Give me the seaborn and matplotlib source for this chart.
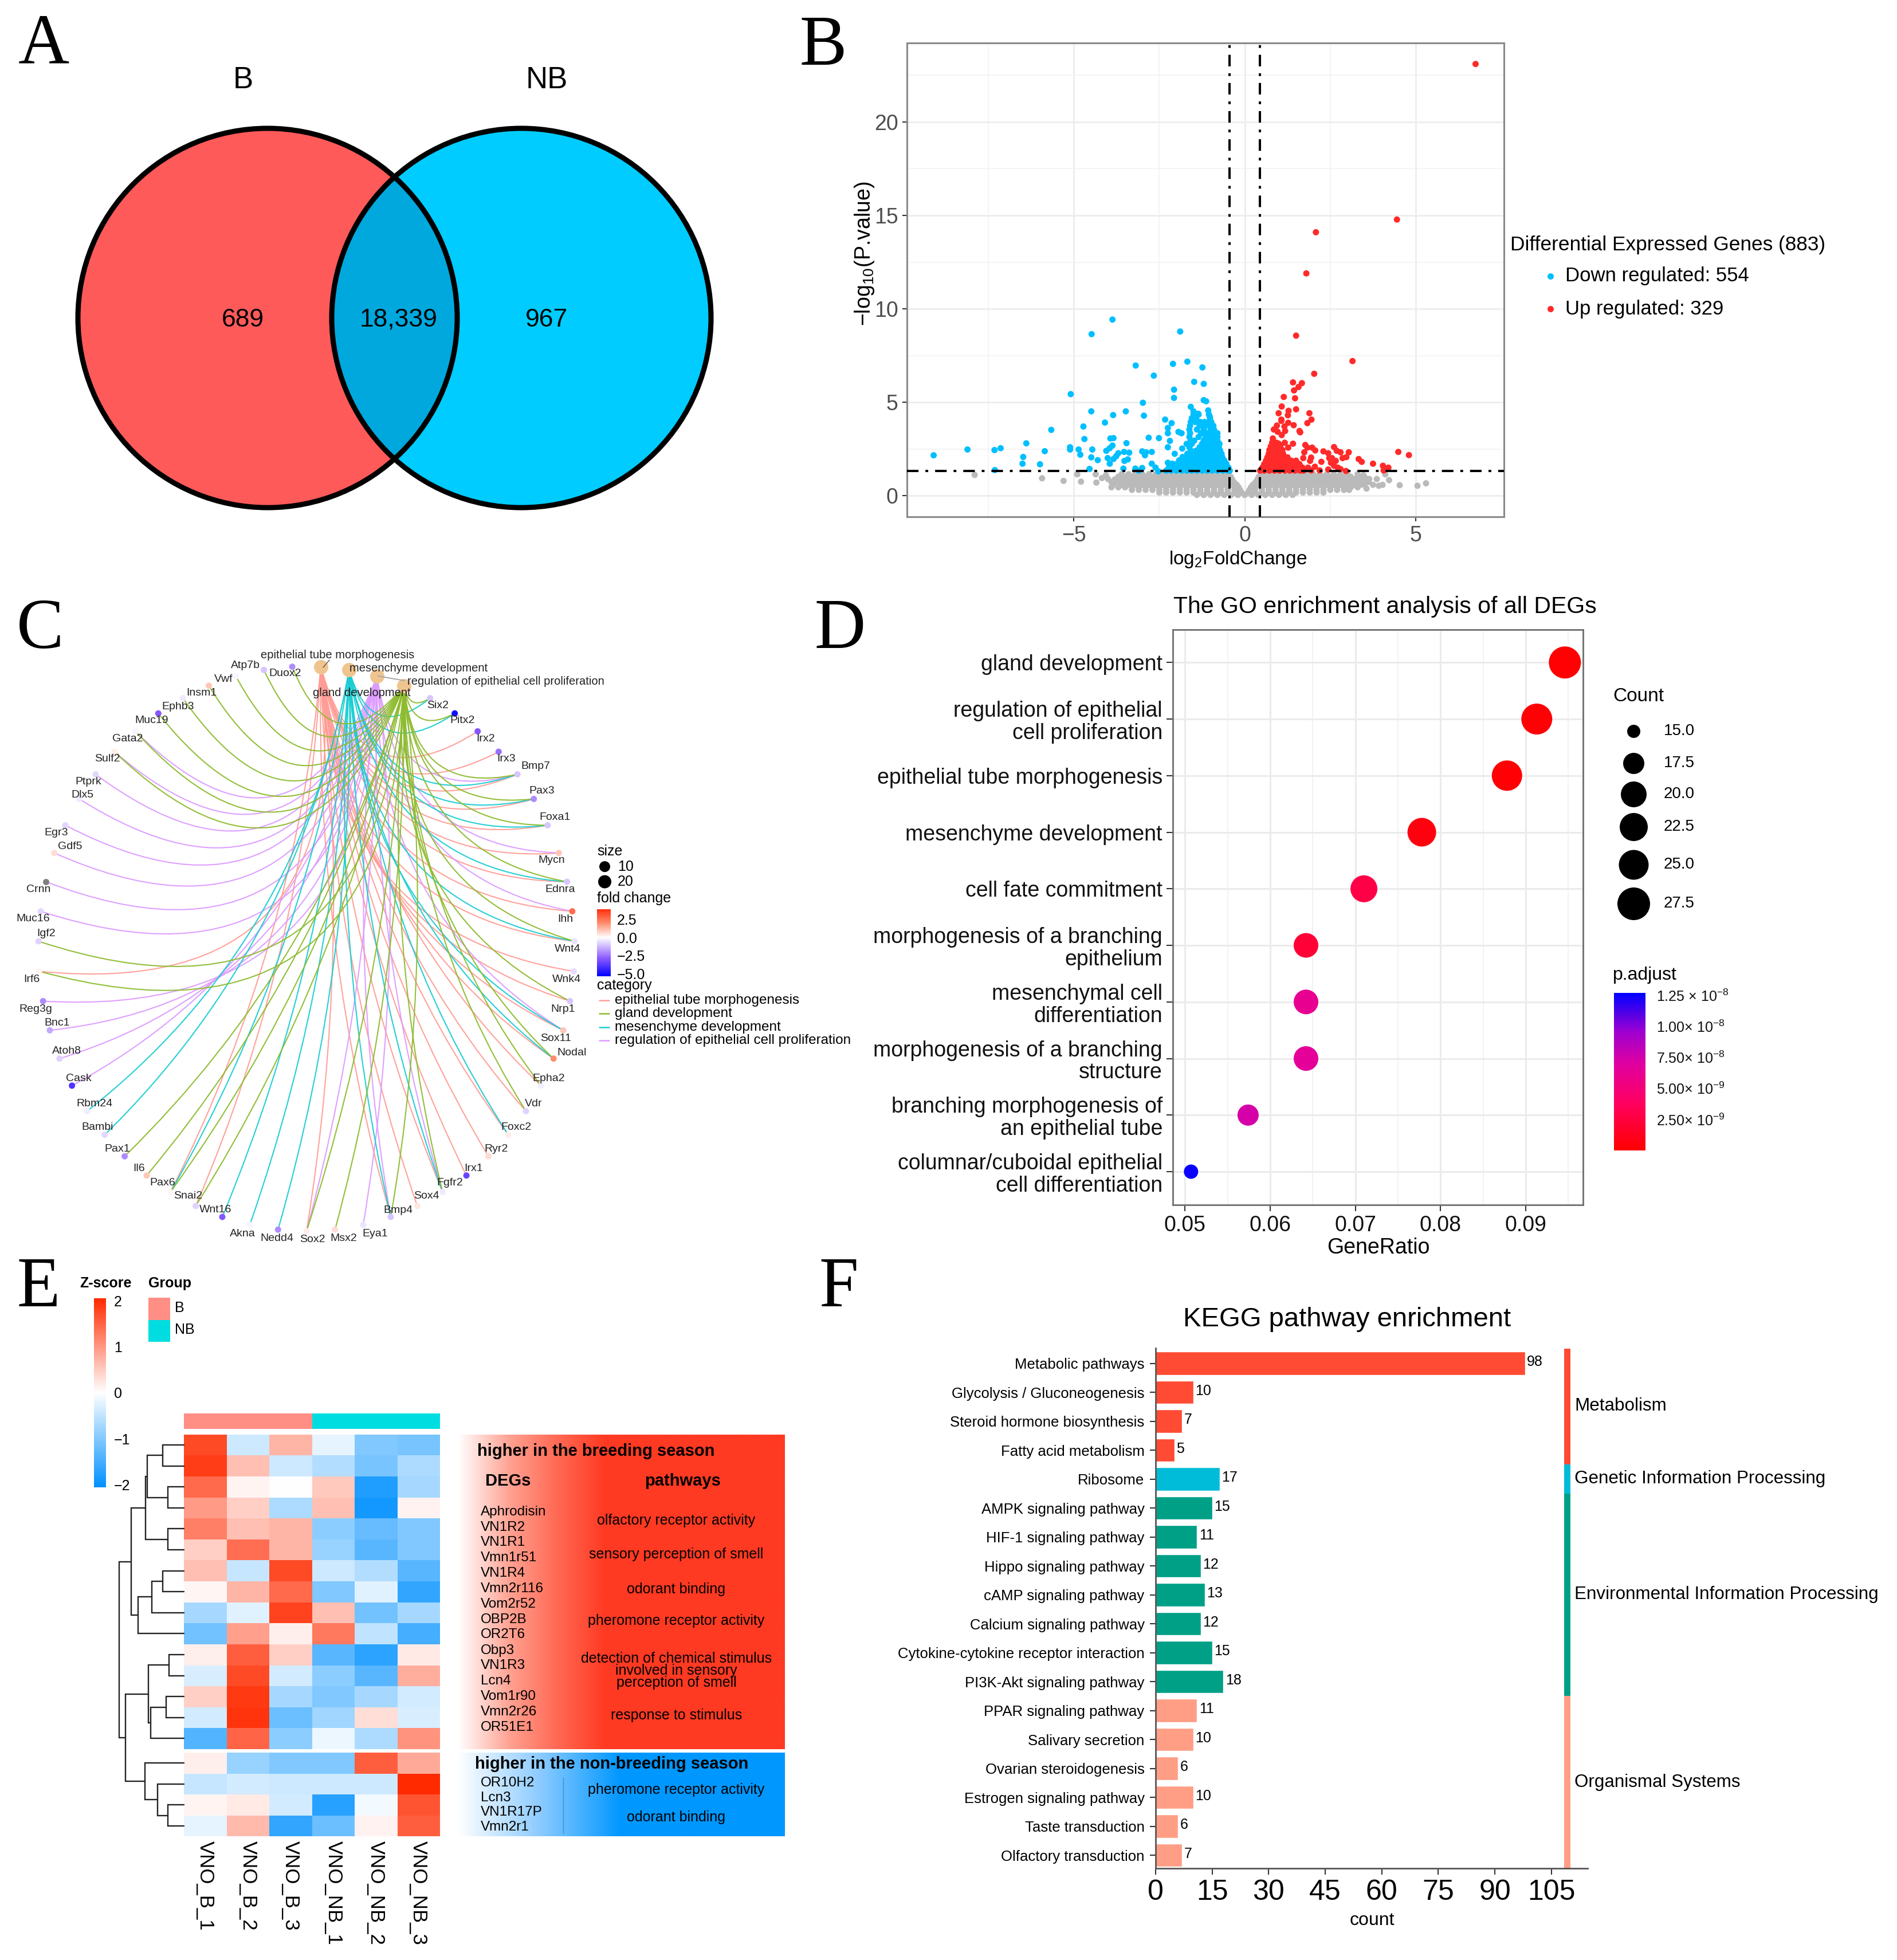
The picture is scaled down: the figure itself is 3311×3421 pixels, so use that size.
import numpy as np
import pandas as pd
import matplotlib
matplotlib.use('Agg')
import matplotlib.pyplot as plt
import seaborn as sns
from matplotlib.cm import ScalarMappable
from matplotlib.colors import LinearSegmentedColormap, ListedColormap, Normalize
from matplotlib.patches import Circle, PathPatch
from matplotlib.path import Path

W, H = 3311, 3421

# --- A: venn
venn_counts = ['689', '18,339', '967']
venn_sets = ['B', 'NB']

# --- B: volcano, values
gray_levels = [0.05, 0.18, 0.32, 0.46, 0.6, 0.74, 0.88, 1.02, 1.16]
gray_rows = [
    [-1.4, -1.2, -1.0, -.8, -.6, -.4, -.2, 0, .2, .4, .6, .8, 1.0, 1.2, 1.4],
    [-2.5, -2.3, -2.1, -1.9, -1.7, -1.5, -1.3, -1.1, -.9, -.7, -.5, -.3, -.1, .1, .3, .5, .7, .9, 1.1, 1.3, 1.5, 1.7, 1.9, 2.1, 2.3],
    [-3.3, -3.1, -2.9, -2.7, -2.5, -2.3, -2.1, -1.9, -1.7, -1.5, -1.3, -1.1, -.9, -.7, -.5, -.3, -.14, .14, .3, .5, .7, .9, 1.1, 1.3, 1.5, 1.7, 1.9, 2.1, 2.3, 2.5, 2.7, 2.9, 3.05],
    [-3.9, -3.7, -3.5, -3.3, -3.1, -2.9, -2.7, -2.5, -2.3, -2.1, -1.9, -1.7, -1.5, -1.3, -1.1, -.9, -.7, -.5, -.3, -.18, .18, .3, .5, .7, .9, 1.1, 1.3, 1.5, 1.7, 1.9, 2.1, 2.3, 2.5, 2.7, 2.9, 3.1, 3.3],
    [-3.85, -3.6, -3.4, -3.2, -3.0, -2.8, -2.6, -2.4, -2.2, -2.0, -1.8, -1.6, -1.4, -1.2, -1.0, -.8, -.6, -.4, -.24, .24, .4, .6, .8, 1.0, 1.2, 1.4, 1.6, 1.8, 2.0, 2.2, 2.4, 2.6, 2.8, 3.0, 3.2, 3.4, 3.5],
    [-3.9, -3.7, -3.5, -3.3, -3.1, -2.9, -2.7, -2.5, -2.3, -2.1, -1.9, -1.7, -1.5, -1.3, -1.1, -.9, -.7, -.5, -.32, .32, .5, .7, .9, 1.1, 1.3, 1.5, 1.7, 1.9, 2.1, 2.3, 2.5, 2.7, 2.9, 3.1, 3.3, 3.5, 3.62],
    [-3.8, -3.6, -3.4, -3.2, -3.0, -2.8, -2.6, -2.4, -2.2, -2.0, -1.8, -1.6, -1.4, -1.2, -1.0, -.8, -.6, -.37, .37, .6, .8, 1.0, 1.2, 1.4, 1.6, 1.8, 2.0, 2.2, 2.4, 2.6, 2.8, 3.0, 3.2, 3.4, 3.6],
    [-3.7, -3.5, -3.3, -3.1, -2.9, -2.7, -2.5, -2.3, -2.1, -1.9, -1.7, -1.5, -1.3, -1.1, -.9, -.7, -.5, -.41, .41, .5, .7, .9, 1.1, 1.3, 1.5, 1.7, 1.9, 2.1, 2.3, 2.5, 2.7, 2.9, 3.1, 3.3, 3.5],
    [-3.6, -3.4, -3.2, -3.0, -2.8, -2.6, -2.4, -2.2, -2.0, -1.8, -1.6, -1.4, -1.2, -1.0, -.8, -.6, -.47, .47, .6, .8, 1.0, 1.2, 1.4, 1.6, 1.8, 2.0, 2.2, 2.4, 2.6, 2.8, 3.0, 3.3],
]
gray_out_x = [-7.9, -5.93, -5.3, -4.9, -4.79, -4.36, -4.34, -4.18, -4.06, -4.0, 4.53, 5.05, 5.3, 4.22, 4.11, 3.92, 4.03, 3.75, 3.56, 3.86, 3.64, 3.47]
gray_out_y = [1.12, .94, .8, 1.15, .76, 1.15, .71, .95, 1.1, .9, .57, .54, .67, .84, 1.15, .54, .59, .59, .39, .9, .9, 1.1]

blue_x = [-9.1, -8.11, -7.32, -7.14, -6.39, -6.48, -6.5, -7.31, -5.85, -5.99, -5.66, -5.09, -5.11, -5.11, -4.86, -4.81, -4.72, -4.69, -4.49, -4.46, -4.49, -4.3, -4.54,
          -4.09, -3.85, -3.48, -3.93, -3.84, -3.46, -3.87, -3.95, -4.05, -3.7, -3.76, -3.84, -4.01, -3.95, -3.53, -3.38, -3.42, -3.52, -3.55,
          -3.19, -2.66, -2.1, -1.68, -1.24, -1.48, -1.2, -2.07, -2.07, -1.2, -1.13, -2.98, -2.95, -1.58, -1.5, -1.36, -1.07, -1.02,
          -2.33, -2.14, -2.25, -2.25, -1.94, -1.85, -2.81, -2.51, -2.19, -2.25, -3.0, -2.89, -2.72, -2.92, -2.05, -1.83, -2.25, -2.72, -2.61, -2.53,
          -3.2, -3.0, -3.1, -3.87, -4.48, -1.89]
blue_y = [2.17, 2.48, 2.45, 2.55, 2.81, 2.08, 1.72, 1.38, 2.39, 1.69, 3.53, 5.44, 2.6, 2.48, 2.48, 2.2, 3.71, 3.04, 4.52, 2.48, 2.06, 1.91, 1.44,
          3.92, 4.32, 4.52, 3.07, 3.09, 2.82, 2.69, 2.55, 2.41, 2.28, 2.12, 1.97, 2.02, 1.72, 2.35, 2.31, 1.95, 1.87, 1.46,
          6.97, 6.43, 7.06, 7.18, 6.87, 6.1, 5.99, 5.68, 5.24, 5.12, 5.06, 4.98, 4.29, 4.76, 4.52, 4.39, 4.57, 4.22,
          4.08, 3.89, 3.63, 3.35, 3.42, 3.35, 3.11, 3.09, 2.94, 2.6, 2.38, 2.33, 2.35, 2.17, 2.25, 2.53, 1.77, 1.72, 1.51, 1.31,
          1.46, 1.49, 1.35, 9.43, 8.65, 8.79]
blue_levels = [1.35, 1.52, 1.72, 1.9, 2.08, 2.25, 2.42, 2.6, 2.78, 2.95, 3.15, 3.35, 3.55, 3.75, 3.95, 4.15, 4.35]
blue_rows = [
    [-2.3, -2.15, -2.0, -1.85, -1.7, -1.55, -1.4, -1.25, -1.1, -.95, -.8, -.65, -.5, -.44],
    [-2.22, -2.08, -1.92, -1.78, -1.62, -1.48, -1.32, -1.18, -1.02, -.88, -.72, -.58, -.48],
    [-2.12, -1.98, -1.82, -1.68, -1.52, -1.38, -1.22, -1.08, -.92, -.78, -.64, -.54],
    [-1.92, -1.78, -1.62, -1.48, -1.32, -1.18, -1.02, -.88, -.72, -.6],
    [-1.82, -1.68, -1.52, -1.38, -1.22, -1.08, -.92, -.78, -.66],
    [-1.68, -1.52, -1.38, -1.22, -1.08, -.92, -.78, -.68],
    [-1.58, -1.42, -1.28, -1.12, -.98, -.82, -.72],
    [-1.62, -1.32, -1.18, -1.02, -.88, -.76],
    [-1.7, -1.55, -1.25, -1.1, -.95, -.82, -.74],
    [-1.58, -1.48, -1.2, -1.05, -.92, -.8],
    [-1.62, -1.35, -1.15, -1.0, -.88, -.8],
    [-1.6, -1.28, -1.12, -.98, -.86, -.8],
    [-1.62, -1.4, -1.2, -1.0, -.9],
    [-1.6, -1.32, -1.15, -1.0, -.92],
    [-1.58, -1.45, -1.3, -1.18, -1.05, -.98],
    [-1.55, -1.42, -1.02],
    [-1.5, -1.35, -1.05],
]

red_x = [6.75, 4.45, 2.08, 1.8, 1.5, 3.15, 2.03, 1.41, 1.67, 1.57, 1.44, 1.14, 1.47, 1.08, 1.5, .99, 1.28, 1.26, 1.89, 1.95, 1.83, 1.07, 1.07, 1.27, 1.43, 1.6, 1.62,
         .94, .85, .96, 1.16, 1.18, 1.08, .82, .93, .99, 1.17, 1.41, 1.27, 1.77, 1.83, 1.97, 2.06, 1.74, 1.71, 1.94, 1.91,
         2.3, 2.44, 2.61, 2.69, 2.8, 3.04, 2.97, 2.86, 2.24, 2.47, 2.55, 2.66, 2.52, 2.61, 2.72, 2.8, 2.44,
         3.33, 3.42, 3.75, 4.04, 4.2, 4.06, 4.49, 4.8, 2.96, 1.85, 2.05, 1.94, 2.19]
red_y = [23.1, 14.78, 14.1, 11.9, 8.57, 7.21, 6.53, 6.07, 6.03, 5.82, 5.64, 5.29, 5.22, 4.78, 4.63, 4.42, 4.55, 4.31, 4.42, 4.08, 3.89, 4.08, 4.01, 3.91, 3.78, 3.47, 3.4,
         3.76, 3.55, 3.43, 3.71, 3.47, 3.25, 3.07, 2.84, 2.79, 2.84, 2.79, 2.58, 2.72, 2.58, 2.58, 2.43, 2.33, 2.02, 2.05, 1.87,
         2.38, 2.28, 2.61, 2.41, 2.33, 2.33, 2.07, 2.02, 1.82, 2.02, 2.02, 1.87, 1.77, 1.61, 1.51, 1.43, 1.41,
         1.97, 1.82, 1.72, 1.61, 1.51, 1.36, 2.35, 2.18, 1.33, 1.51, 1.56, 1.36, 1.36]
red_levels = [1.35, 1.52, 1.7, 1.88, 2.06, 2.25, 2.45, 2.65, 2.85]
red_rows = [
    [.45, .57, .72, .87, 1.02, 1.17, 1.32, 1.47, 1.62, 1.72],
    [.52, .65, .8, .95, 1.1, 1.25, 1.4, 1.55, 1.68],
    [.57, .72, .87, 1.02, 1.17, 1.32, 1.47, 1.6],
    [.62, .77, .92, 1.07, 1.22, 1.36, 1.5],
    [.66, .8, .95, 1.1, 1.25],
    [.7, .84, .98, 1.12],
    [.72, .84, .98, 1.1],
    [.76, .86, 1.04],
    [.8, .88],
]

# --- C: gene network
gene_names = ['Six2', 'Pitx2', 'Irx2', 'Irx3', 'Bmp7', 'Pax3', 'Foxa1', 'Mycn', 'Ednra', 'Ihh', 'Wnt4', 'Wnk4', 'Nrp1', 'Sox11', 'Nodal',
              'Epha2', 'Vdr', 'Foxc2', 'Ryr2', 'Irx1', 'Fgfr2', 'Sox4', 'Bmp4', 'Eya1', 'Msx2', 'Sox2', 'Nedd4', 'Akna', 'Wnt16', 'Snai2',
              'Pax6', 'Il6', 'Pax1', 'Bambi', 'Rbm24', 'Cask', 'Atoh8', 'Bnc1', 'Reg3g', 'Irf6', 'Igf2', 'Muc16', 'Crnn', 'Gdf5', 'Egr3',
              'Dlx5', 'Ptprk', 'Sulf2', 'Gata2', 'Muc19', 'Ephb3', 'Insm1', 'Vwf', 'Atp7b', 'Duox2']
gene_fc = [-1, -5, -3, -2.5, -1, -2, -1, 1, -1, 2.6, -.5, -.6, -1, 1, 2, -.3, -.8, .3, .6, -3.5, -.4, .4, -1, -.5, .6,
           .3, -2, -.2, -3, -.8, .2, 1, -2, -.7, -.3, -4, -.8, -1.5, -2, .2, -.8, -.7, np.nan, .6, -.7, -.4, -.7, .3, -.2, -3,
           -.4, 1, -.2, -1, -2]
gene_links = ['MG', 'MG', 'E', 'E', 'EGMR', 'EGM', 'EGM', 'ER', 'EGM', 'ER', 'EGM', 'E', 'EG', 'ERM', 'GME',
              'EG', 'EG', 'ME', 'E', 'E', 'EGMR', 'E', 'EGMR', 'R', 'G', 'GER', 'M', 'M', 'M', 'GE',
              'GEM', 'G', 'G', 'M', 'M', 'R', 'R', 'R', 'R', 'GE', 'G', 'R', 'R', 'R', 'R',
              'R', 'R', 'GR', 'GR', 'G', 'G', 'G', 'G', 'G', 'G']
term_names = ['epithelial tube morphogenesis', 'gland development', 'mesenchyme development', 'regulation of epithelial cell proliferation']
term_keys = ['E', 'G', 'M', 'R']
term_slot = {'E': 0, 'M': 1, 'R': 2, 'G': 3}
term_colors = {'E': '#FF9D96', 'G': '#8DBB2E', 'M': '#19CDD3', 'R': '#DD9BFF'}

# label positions (in zoom pixels of the original)
gene_label_x = [921, 973, 1022, 1066, 1127, 1140, 1168, 1161, 1179, 1190, 1195, 1193, 1185, 1170, 1204, 1155, 1123, 1087, 1044, 997, 947, 898, 838, 790, 723,
                658, 583, 511, 453, 396, 342, 293, 247, 205, 199, 166, 141, 120, 75, 67, 97, 70, 81, 147, 118, 174, 186, 226, 269, 319, 375, 424, 470, 517, 600]
gene_label_y = [302, 337, 378, 424, 441, 497, 557, 656, 722, 790, 858, 927, 995, 1062, 1095, 1153, 1211, 1265, 1314, 1358, 1391, 1422, 1454, 1507, 1518,
                1521, 1518, 1507, 1453, 1422, 1391, 1358, 1314, 1265, 1211, 1153, 1091, 1027, 995, 927, 823, 789, 722, 624, 593, 507, 476, 424, 378, 337, 305, 274, 242, 211, 230]

# --- D: GO dot plot
go_terms = ['gland development', 'regulation of epithelial\ncell proliferation', 'epithelial tube morphogenesis', 'mesenchyme development',
            'cell fate commitment', 'morphogenesis of a branching\nepithelium', 'mesenchymal cell\ndifferentiation',
            'morphogenesis of a branching\nstructure', 'branching morphogenesis of\nan epithelial tube',
            'columnar/cuboidal epithelial\ncell differentiation']
go_ratio = [.0946, .0913, .0878, .0778, .0710, .0642, .0642, .0642, .0574, .0507]
go_count = [28, 27, 26, 23, 21, 19, 19, 19, 17, 15]
go_padj = [1e-10, 2e-10, 1.5e-10, 6e-10, 2.8e-9, 2.2e-9, 6.2e-9, 6.6e-9, 7.4e-9, 1.25e-8]

# --- E: heatmap
samples = ['VNO_B_1', 'VNO_B_2', 'VNO_B_3', 'VNO_NB_1', 'VNO_NB_2', 'VNO_NB_3']
zscore = [
    [1.7, -.4, .7, -.2, -1.0, -1.05],
    [1.8, .6, -.4, -.6, -1.05, -.65],
    [1.4, .1, 0, .5, -1.75, -.7],
    [.95, .45, -.65, .6, -1.85, .12],
    [1.2, .6, .7, -.9, -1.2, -1.0],
    [.45, 1.35, .7, -.8, -1.3, -1.0],
    [.6, -.45, 1.7, -.4, -.6, -1.3],
    [.08, .7, 1.4, -1.0, -.25, -1.6],
    [-.7, -.25, 1.75, .6, -1.1, -.7],
    [-1.1, .9, .15, 1.25, -.5, -1.45],
    [.15, 1.5, .45, -1.3, -1.65, .2],
    [-.3, 1.7, -.35, -.9, -1.3, .75],
    [.45, 1.85, -.7, -1.0, -.7, -.35],
    [-.35, 1.9, -1.15, -.75, .3, -.3],
    [-1.35, 1.45, -.9, -.15, -.65, 1.0],
    [.15, -.8, -1.0, -1.0, 1.5, .8],
    [-.45, -.35, -.4, -.4, -.4, 2.0],
    [.1, .2, -.35, -1.7, -.1, 1.6],
    [-.2, .65, -1.6, -1.15, .12, 1.5],
]
# tree as (distance, child, child), leaves are row numbers
row_tree = (127,
            (103,
             (75, (72, (42, 0, 1), (32, 2, 3)), (32, 4, 5)),
             (90, (63, (42, 6, 7), 8), 9)),
            (115,
             (70, (30, 10, 11), (65, (35, 12, 13), 14)),
             (77, 15, (52, 16, (32, 17, 18)))))
deg_high = ['Aphrodisin', 'VN1R2', 'VN1R1', 'Vmn1r51', 'VN1R4', 'Vmn2r116', 'Vom2r52', 'OBP2B', 'OR2T6', 'Obp3', 'VN1R3', 'Lcn4', 'Vom1r90', 'Vmn2r26', 'OR51E1']
deg_low = ['OR10H2', 'Lcn3', 'VN1R17P', 'Vmn2r1']
path_high = ['olfactory receptor activity', 'sensory perception of smell', 'odorant binding', 'pheromone receptor activity',
             'detection of chemical stimulus', 'involved in sensory', 'perception of smell', 'response to stimulus']
path_low = ['pheromone receptor activity', 'odorant binding']

# --- F: KEGG bars
kegg_terms = ['Metabolic pathways', 'Glycolysis / Gluconeogenesis', 'Steroid hormone biosynthesis', 'Fatty acid metabolism', 'Ribosome',
              'AMPK signaling pathway', 'HIF-1 signaling pathway', 'Hippo signaling pathway', 'cAMP signaling pathway', 'Calcium signaling pathway',
              'Cytokine-cytokine receptor interaction', 'PI3K-Akt signaling pathway', 'PPAR signaling pathway', 'Salivary secretion',
              'Ovarian steroidogenesis', 'Estrogen signaling pathway', 'Taste transduction', 'Olfactory transduction']
kegg_count = [98, 10, 7, 5, 17, 15, 11, 12, 13, 12, 15, 18, 11, 10, 6, 10, 6, 7]
kegg_groups = ['Metabolism', 'Genetic Information Processing', 'Environmental Information Processing', 'Organismal Systems']
kegg_group_size = [4, 1, 7, 6]
kegg_group_color = ['#FF4B33', '#00BCD8', '#00A087', '#FF9E85']

sns.set_theme(style='white')
plt.rcParams['font.family'] = ['Liberation Sans', 'DejaVu Sans']
plt.rcParams['mathtext.fontset'] = 'custom'
plt.rcParams['mathtext.rm'] = 'Liberation Sans'
plt.rcParams['mathtext.it'] = 'Liberation Sans'
plt.rcParams['mathtext.default'] = 'regular'

fig = plt.figure(figsize=(W / 100, H / 100), dpi=100, facecolor='white')


def ax_px(l, t, r, b):
    return fig.add_axes([l / W, 1 - b / H, (r - l) / W, (b - t) / H])


def dot_size(d):
    return (d * 0.72) ** 2


over = fig.add_axes([0, 0, 1, 1], zorder=10)
over.set_xlim(0, W)
over.set_ylim(H, 0)
over.axis('off')


def txt(x, y, s, size, ha='left', **kw):
    over.text(x, y, s, fontsize=size, ha=ha, va='center', color=kw.pop('color', 'black'), **kw)


# panel letters
for letter, x, y in [('A', 76, 81), ('B', 1437, 83), ('C', 70, 1101), ('D', 1466, 1101), ('E', 67, 2250), ('F', 1464, 2250)]:
    over.text(x, y, letter, fontsize=89, ha='center', va='center', family='Liberation Serif', color='black')

# A
left = Circle((467, 555), 331, fc='#FF5A5A', ec='none')
right = Circle((910, 555), 331, fc='#00CCFF', ec='none')
over.add_patch(left)
over.add_patch(right)
both = Circle((910, 555), 331, fc='#00A8DD', ec='none')
over.add_patch(both)
both.set_clip_path(Circle((467, 555), 331, transform=over.transData))
for cx in (467, 910):
    over.add_patch(Circle((cx, 555), 331, fc='none', ec='black', lw=6.5))
for x, s in zip((424, 696, 954), venn_counts):
    txt(x, 558, s, 32, ha='center')
for x, s in zip((424, 954), venn_sets):
    txt(x, 140, s, 38, ha='center')

# B
xb, yb = list(gray_out_x), list(gray_out_y)
for lev, row in zip(gray_levels, gray_rows):
    xb += row
    yb += [lev] * len(row)
groups = ['NS'] * len(xb)
bx, by = list(blue_x), list(blue_y)
for lev, row in zip(blue_levels, blue_rows):
    bx += row
    by += [lev] * len(row)
rx, ry = list(red_x), list(red_y)
for lev, row in zip(red_levels, red_rows):
    rx += row
    ry += [lev] * len(row)
volcano = pd.DataFrame({'fc': xb + bx + rx, 'p': yb + by + ry,
                        'grp': groups + ['Down'] * len(bx) + ['Up'] * len(rx)})
ax = ax_px(1583, 74.5, 2625, 902)
sns.scatterplot(data=volcano, x='fc', y='p', hue='grp', ax=ax, s=dot_size(11), linewidth=0, legend=False,
                palette={'NS': '#BABABA', 'Down': '#00BFFF', 'Up': '#FF2A2A'}, zorder=3)
ax.set_xlim(-9.88, 7.58)
ax.set_ylim(-1.12, 24.24)
ax.set_xticks([-5, 0, 5])
ax.set_yticks([0, 5, 10, 15, 20])
ax.set_xticks([-7.5, -2.5, 2.5], minor=True)
ax.set_yticks([2.5, 7.5, 12.5, 17.5, 22.5], minor=True)
ax.grid(True, which='major', color='#EDEDED', lw=2)
ax.grid(True, which='minor', color='#F2F2F2', lw=1.2)
ax.set_axisbelow(True)
dash = (0, (5, 3, 1.2, 3))
for v in (-0.45, 0.45):
    ax.axvline(v, color='black', lw=2.9, ls=dash, zorder=4)
ax.axhline(1.317, color='black', lw=2.9, ls=dash, zorder=4)
ax.tick_params(axis='both', which='major', labelsize=27, labelcolor='#4D4D4D', length=6, width=1.5, color='#333333', bottom=True, left=True, pad=5)
ax.tick_params(axis='both', which='minor', length=0)
ax.set_xlabel('')
ax.set_ylabel('')
for sp in ax.spines.values():
    sp.set_color('#8A8A8A')
    sp.set_linewidth(2.2)
txt(2161, 976, 'log$_2$FoldChange', 24, ha='center')
over.text(1509, 443, '\u2212log$_{10}$(P.value)', fontsize=27, rotation=90, ha='center', va='center', color='black')
txt(2636, 428, 'Differential Expressed Genes (883)', 25.4)
txt(2732, 482, 'Down regulated: 554', 25)
txt(2732, 539, 'Up regulated: 329', 25)
over.scatter([2706], [482], s=dot_size(11), c='#00BFFF', linewidths=0)
over.scatter([2706], [539], s=dot_size(11), c='#FF2A2A', linewidths=0)

# C
fc_cmap = LinearSegmentedColormap.from_list('fc', [(0, '#0000FF'), (.27, '#8D5BFF'), (.579, '#FFFFFF'), (.8, '#FF8A6A'), (1, '#FF3010')])
fc_norm = Normalize(-5.36, 3.9)
ax = ax_px(535 - 468, 1656 - 493, 535 + 468, 1656 + 493)
ax.set_xlim(-1, 1)
ax.set_ylim(-1, 1)
ax.axis('off')
step = np.deg2rad(360 / 59)


def ring(k):
    a = np.deg2rad(3.05) + step * k
    return np.sin(a), np.cos(a)


term_xy = {k: ring(term_slot[k]) for k in term_keys}
gene_xy = [ring(i + 4) for i in range(len(gene_names))]
for key in ['E', 'R', 'M', 'G']:
    tx, ty = term_xy[key]
    for (gx, gy), links in zip(gene_xy, gene_links):
        if key not in links:
            continue
        dx, dy = tx - gx, ty - gy
        # arcs bend more for the genes high on the ring
        s = np.interp(gy, [-1, -.8, -.48, -.08, .4, 1], [.08, .11, .23, .62, .6, .8])
        if gx > 0:
            s *= np.interp(gy, [-1, -.3, .2, 1], [.9, .7, .65, 1.0])
        px, py = -dy, dx
        if py > 0:
            px, py = -px, -py
        ctrl = ((gx + tx) / 2 + s * px, (gy + ty) / 2 + s * py)
        ax.add_patch(PathPatch(Path([(gx, gy), ctrl, (tx, ty)], [Path.MOVETO, Path.CURVE3, Path.CURVE3]),
                               fc='none', ec=term_colors[key], lw=1.5, alpha=0.95, clip_on=False))
nodes = pd.DataFrame({'x': [p[0] for p in gene_xy], 'y': [p[1] for p in gene_xy], 'fc': gene_fc})
sns.scatterplot(data=nodes.dropna(), x='x', y='y', hue='fc', palette=fc_cmap, hue_norm=fc_norm, s=dot_size(11), linewidth=0,
                legend=False, ax=ax, zorder=5, clip_on=False)
sns.scatterplot(data=nodes[nodes.fc.isna()], x='x', y='y', color='#7F7F7F', s=dot_size(11), linewidth=0, legend=False, ax=ax, zorder=5, clip_on=False)
sns.scatterplot(x=[term_xy[k][0] for k in term_keys], y=[term_xy[k][1] for k in term_keys], color='#EFC48E', s=dot_size(25), linewidth=0,
                legend=False, ax=ax, zorder=5, clip_on=False)
ax.set_xlim(-1, 1)
ax.set_ylim(-1, 1)
ax.set_xlabel('')
ax.set_ylabel('')
for name, lx, ly in zip(gene_names, gene_label_x, gene_label_y):
    txt(lx / 1.206, 1000 + ly / 1.307, name, 14, ha='center', color='#222222')
for name, lx, ly in zip(term_names, (711, 761, 881, 1065), (187, 274, 218, 248)):
    txt(lx / 1.206, 1000 + ly / 1.307, name, 14.5, ha='center', color='#222222')
over.plot([564, 575], [1165, 1152], color='#555555', lw=1)
over.plot([660, 706], [1180, 1188], color='#AAAAAA', lw=1.5)
txt(1042, 1486, 'size', 18)
over.scatter([1055.5, 1055.5], [1512.6, 1539], s=[dot_size(19), dot_size(23)], c='black', linewidths=0)
txt(1078, 1512.6, '10', 18)
txt(1078, 1539, '20', 18)
txt(1042, 1568, 'fold change', 18)
cax = ax_px(1042, 1587, 1065.5, 1704)
cb = fig.colorbar(ScalarMappable(fc_norm, fc_cmap), cax=cax)
cb.outline.set_visible(False)
cb.set_ticks([2.5, 0, -2.5, -5], labels=['2.5', '0.0', '\u22122.5', '\u22125.0'])
cax.tick_params(labelsize=18, length=0, pad=8, labelcolor='black')
txt(1042, 1720, 'category', 18)
for name, key, y in zip(term_names, term_keys, (1746, 1769, 1793, 1816)):
    over.plot([1046, 1063], [y, y], color=term_colors[key], lw=1.8)
    txt(1073, y, name, 17.5)

# D
padj_cmap = LinearSegmentedColormap.from_list('padj', [(0, '#FF0000'), (.3, '#FF0060'), (.55, '#E000A0'), (.75, '#A000D0'), (1, '#0000FF')])
padj_norm = Normalize(0, 1.27e-8)
go = pd.DataFrame({'term': go_terms, 'ratio': go_ratio, 'count': go_count, 'padj': go_padj})
ax = ax_px(2047, 1099, 2763, 2103)
sns.scatterplot(data=go, x='ratio', y='term', hue='padj', palette=padj_cmap, hue_norm=padj_norm, size='count',
                sizes={28: dot_size(56), 27: dot_size(54), 26: dot_size(53), 23: dot_size(50), 21: dot_size(47),
                       19: dot_size(43), 17: dot_size(37), 15: dot_size(25)},
                linewidth=0, legend=False, ax=ax, zorder=3, clip_on=False)
ax.set_xlim(.04856, .09673)
ax.set_ylim(9.587, -.58)
ax.set_xticks([.05, .06, .07, .08, .09], labels=['0.05', '0.06', '0.07', '0.08', '0.09'])
ax.set_xticks([.055, .065, .075, .085, .095], minor=True)
ax.grid(True, which='major', color='#EBEBEB', lw=2.2)
ax.grid(True, which='minor', axis='x', color='#F0F0F0', lw=1.2)
ax.set_axisbelow(True)
ax.tick_params(axis='both', which='major', labelsize=27, length=8, width=1.5, color='#333333', labelcolor='#111111', bottom=True, left=True, pad=5)
ax.tick_params(axis='both', which='minor', length=0)
for lab in ax.get_yticklabels():
    lab.set_multialignment('right')
    lab.set_linespacing(1.1)
ax.set_xlabel('')
ax.set_ylabel('')
for sp in ax.spines.values():
    sp.set_color('#6E6E6E')
    sp.set_linewidth(2)
txt(2406, 2178, 'GeneRatio', 27, ha='center')
txt(2417, 1059, 'The GO enrichment analysis of all DEGs', 29.5, ha='center')
txt(2815, 1216, 'Count', 24)
for lab, y, d in zip(['15.0', '17.5', '20.0', '22.5', '25.0', '27.5'], (1276, 1332, 1386, 1443, 1509, 1577), (23, 37, 45, 49, 52, 57)):
    over.scatter([2850.5], [y], s=dot_size(d), c='black', linewidths=0)
    txt(2904, y, lab, 20)
txt(2815, 1702, 'p.adjust', 23)
cax = ax_px(2817, 1733, 2871.6, 2008)
cb = fig.colorbar(ScalarMappable(padj_norm, padj_cmap), cax=cax)
cb.outline.set_visible(False)
cb.set_ticks([1.25e-8, 1e-8, 7.5e-9, 5e-9, 2.5e-9],
             labels=['1.25 \u00d7 10$^{-8}$', '1.00\u00d7 10$^{-8}$', '7.50\u00d7 10$^{-8}$', '5.00\u00d7 10$^{-9}$', '2.50\u00d7 10$^{-9}$'])
cax.tick_params(labelsize=18, length=6, width=1.2, color='white', direction='in', pad=14, labelcolor='#111111')

# E
z_cmap = LinearSegmentedColormap.from_list('z', ['#0090FF', '#FFFFFF', '#FF2A00'])
z = np.array(zscore)
ax = ax_px(321.4, 2503.7, 768, 3053)
sns.heatmap(z[:15], cmap=z_cmap, vmin=-2, vmax=2, cbar=False, xticklabels=False, yticklabels=False, ax=ax)
ax = ax_px(321.4, 3059, 768, 3205)
sns.heatmap(z[15:], cmap=z_cmap, vmin=-2, vmax=2, cbar=False, yticklabels=False, xticklabels=samples, ax=ax)
ax.set_xticklabels(samples, rotation=270, ha='center', va='top', fontsize=25, color='black')
ax.tick_params(axis='x', length=0, pad=6)
ax = ax_px(321.4, 2467, 768, 2494)
sns.heatmap([[0, 0, 0, 1, 1, 1]], cmap=ListedColormap(['#FF8E85', '#00DDE0']), cbar=False, xticklabels=False, yticklabels=False, ax=ax)

ax = ax_px(208, 2503.7, 321.4, 3205)
ax.set_xlim(127, 0)
ax.set_ylim(3205, 2503.7)
ax.axis('off')


def leaf_y(i):
    return 2503.7 + 36.6 * (i + .5) if i < 15 else 3059 + 36.5 * (i - 15 + .5)


def draw_tree(node):
    if not isinstance(node, tuple):
        return leaf_y(node), 0
    d, a, b = node
    ya, da = draw_tree(a)
    yb2, db = draw_tree(b)
    ax.plot([da, d, d, db], [ya, ya, yb2, yb2], color='#222222', lw=1.7, solid_joinstyle='miter', clip_on=False)
    return (ya + yb2) / 2, d


draw_tree(row_tree)

txt(185, 2240, 'Z-score', 18, ha='center', fontweight='bold')
txt(296, 2240, 'Group', 18, ha='center', fontweight='bold')
cax = ax_px(164, 2266, 185, 2596)
cb = fig.colorbar(ScalarMappable(Normalize(-2.05, 2.05), z_cmap), cax=cax)
cb.outline.set_visible(False)
cb.set_ticks([-2, -1, 0, 1, 2], labels=['\u22122', '\u22121', '0', '1', '2'])
cax.tick_params(labelsize=18, length=0, pad=10, labelcolor='black')
ax = ax_px(259, 2265, 297, 2342)
sns.heatmap([[0], [1]], cmap=ListedColormap(['#FF8E85', '#00DDE0']), cbar=False, xticklabels=False, yticklabels=False, ax=ax)
txt(305, 2283, 'B', 18)
txt(305, 2321, 'NB', 18)

for box, stops in [((799, 2504, 1370, 3053), [(0, '#FFFFFF'), (.16, '#FFA090'), (.3, '#FF6A55'), (.45, '#FF3A22'), (1, '#FF3A22')]),
                   ((799, 3059, 1370, 3205), [(0, '#FFFFFF'), (.25, '#8CCBFF'), (.5, '#0097FF'), (1, '#0097FF')])]:
    ax = ax_px(*box)
    ax.imshow(np.linspace(0, 1, 256)[None, :], aspect='auto', cmap=LinearSegmentedColormap.from_list('g', stops))
    ax.axis('off')
over.plot([983, 983], [3103, 3200], color='#3A8FD8', lw=1)


def zx(v):
    return v / 1.12


def zy(v):
    return 2200 + v / 1.284


txt(zx(933), zy(427), 'higher in the breeding season', 21, fontweight='bold')
txt(zx(993), zy(494), 'DEGs', 21, ha='center', fontweight='bold')
txt(zx(1335), zy(494), 'pathways', 21, ha='center', fontweight='bold')
for name, y in zip(deg_high, (564, 598, 632, 667, 701, 736, 770, 805, 839, 874, 908, 943, 977, 1012, 1047)):
    txt(zx(940), zy(y), name, 17.5)
for name, y in zip(path_high, (583, 659, 737, 807, 892, 919, 946, 1020)):
    txt(zx(1322), zy(y), name, 18, ha='center')
txt(zx(929), zy(1128), 'higher in the non-breeding season', 21, fontweight='bold')
for name, y in zip(deg_low, (1171, 1204, 1237, 1270)):
    txt(zx(940), zy(y), name, 17.5)
for name, y in zip(path_low, (1187, 1248)):
    txt(zx(1322), zy(y), name, 18, ha='center')

# F
kegg_group = []
for g, n in zip(kegg_groups, kegg_group_size):
    kegg_group += [g] * n
kegg = pd.DataFrame({'term': kegg_terms, 'count': kegg_count, 'group': kegg_group})
ax = ax_px(2017, 2353, 2771, 3261)
sns.barplot(data=kegg, x='count', y='term', hue='group', palette=dict(zip(kegg_groups, kegg_group_color)), dodge=False,
            legend=False, width=.8, ax=ax, order=kegg_terms, saturation=1)
ax.set_xlim(0, 114.6)
ax.set_ylim(17.455, -.527)
for i, v in enumerate(kegg_count):
    ax.text(v + .5, i - .05, str(v), fontsize=18, va='center', color='black')
start = -.5
for g, n, c, ty in zip(kegg_groups, kegg_group_size, kegg_group_color, (2454.5, 2581, 2783, 3111)):
    top = max(start, -.527)
    bot = min(start + n, 17.455) if start + n < 17.4 else 17.455
    ax.barh((top + bot) / 2, 1.6, left=108.4, height=bot - top, color=c, linewidth=0)
    txt(2748.5, ty, g, 22.6)
    start += n
ax.set_xticks(range(0, 106, 15))
ax.tick_params(axis='x', labelsize=36, length=8, width=1.5, color='#333333', bottom=True, pad=6, labelcolor='black')
ax.tick_params(axis='y', labelsize=18.5, length=7, width=1.5, color='#333333', left=True, pad=7, labelcolor='black')
ax.set_xlabel('')
ax.set_ylabel('')
sns.despine(ax=ax)
for side in ('left', 'bottom'):
    ax.spines[side].set_color('#555555')
    ax.spines[side].set_linewidth(2)
txt(2395, 3352, 'count', 23, ha='center')
txt(2351, 2303, 'KEGG pathway enrichment', 34, ha='center')

fig.savefig('out.png', dpi=100, facecolor='white')
